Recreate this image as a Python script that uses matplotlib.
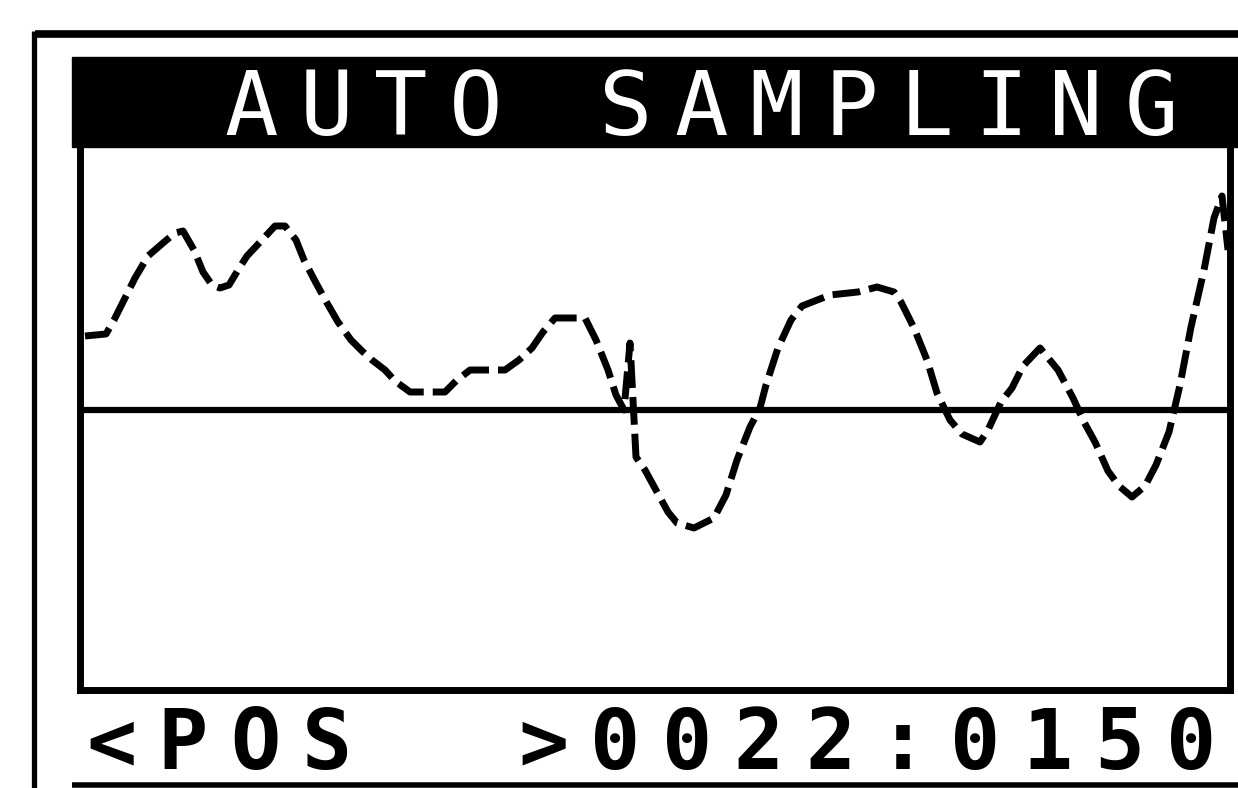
import matplotlib.pyplot as plt
from matplotlib.patches import Rectangle

# sampled waveform read off the LCD screen
# time = position along the trace, level = height above the zero line
time = [0.5, 2.6, 3.4, 4.4, 5.5, 6.8, 8.3, 9.5, 10.3, 11.4, 12.3, 13.2, 14.0, 14.9,
        15.8, 16.7, 18.2, 19.5, 20.5, 21.6, 22.4, 23.6, 24.7, 25.8, 27.1, 28.2,
        29.2, 30.5, 31.5, 33.0, 36.5, 37.6, 39.0, 42.5, 43.9, 45.2, 46.3, 47.5,
        50.5, 51.6, 52.8, 53.6, 54.4, 55.0, 55.6, 56.5, 57.7, 58.8, 59.7, 61.4,
        63.4, 64.6, 65.7, 67.0, 68.0, 68.6, 69.8, 71.1, 72.2, 75.0, 77.8, 79.7,
        81.4, 82.1, 83.4, 84.7, 85.7, 87.0, 88.2, 90.0, 90.8, 92.1, 93.2, 94.3,
        96.0, 97.8, 99.3, 100.4, 101.5, 102.8, 103.9, 105.2, 106.5, 107.6, 108.9,
        110.0, 111.1, 112.4, 113.4, 114.2, 114.8]
level = [7.4, 7.6, 9.0, 11.0, 13.2, 15.4, 16.7, 17.7, 17.9, 16.0, 13.8, 12.5, 12.2, 12.5,
         14.0, 15.4, 17.0, 18.4, 18.4, 17.0, 15.0, 12.7, 10.7, 8.8, 7.0, 5.9,
         5.0, 4.0, 2.9, 1.8, 1.8, 2.9, 4.0, 4.0, 5.0, 6.2, 7.8, 9.2,
         9.2, 7.0, 4.0, 1.5, 0.0, 6.7, -4.7, -6.0, -8.2, -10.2, -11.3, -11.8,
         -10.8, -8.5, -5.0, -1.7, 0.2, 2.5, 6.2, 9.0, 10.4, 11.5, 11.8, 12.3,
         11.8, 10.8, 8.2, 5.0, 1.7, -1.0, -2.4, -3.2, -2.0, 0.8, 2.2, 4.4,
         6.2, 4.0, 1.2, -1.2, -3.2, -6.1, -7.6, -8.7, -7.6, -5.5, -2.2,
         2.5, 8.3, 14.0, 19.2, 21.4, 16.0]

title = "AUTO SAMPLING"
status = "<POS  >0022:0150"

W, H = 1238, 788
fig = plt.figure(figsize=(W / 100, H / 100), dpi=100)
fig.patch.set_facecolor("white")

# screen overlay in pixel coords (frame, title bar, text rows)
scr = fig.add_axes([0, 0, 1, 1])
scr.set_xlim(0, W)
scr.set_ylim(H, 0)
scr.axis("off")

# outer bezel lines
scr.plot([35, W], [34, 34], color="black", lw=5.5, solid_capstyle="butt")
scr.plot([34, 34], [31, H], color="black", lw=3.8, solid_capstyle="butt")
scr.plot([72, W], [785, 785], color="black", lw=4, solid_capstyle="butt")

# title bar
scr.add_patch(Rectangle((72, 57), W - 72, 90, color="black"))
for i, ch in enumerate(title):
    scr.text(251 + i * 75, 135, ch, ha="center", va="baseline", color="white",
             fontsize=64, family="DejaVu Sans Mono")

# status row at the bottom
for i, ch in enumerate(status):
    scr.text(111 + i * 72, 769, ch, ha="center", va="baseline", color="black",
             fontsize=60, family="DejaVu Sans Mono", fontweight="bold")

# the trace window
ax = fig.add_axes([80 / W, (H - 690) / H, 1150 / W, (690 - 147) / H])
ax.set_xlim(0, 115)
ax.set_ylim(-28, 26.3)
ax.patch.set_alpha(0)
ax.set_xticks([])
ax.set_yticks([])
ax.spines["top"].set_visible(False)
for side in ["left", "bottom", "right"]:
    ax.spines[side].set_linewidth(5)

ax.axhline(0, color="black", lw=4.5)
ax.plot(time, level, color="black", lw=5, dashes=(4, 1.3),
        solid_capstyle="butt", dash_capstyle="butt")

plt.savefig("out.png", dpi=100)
